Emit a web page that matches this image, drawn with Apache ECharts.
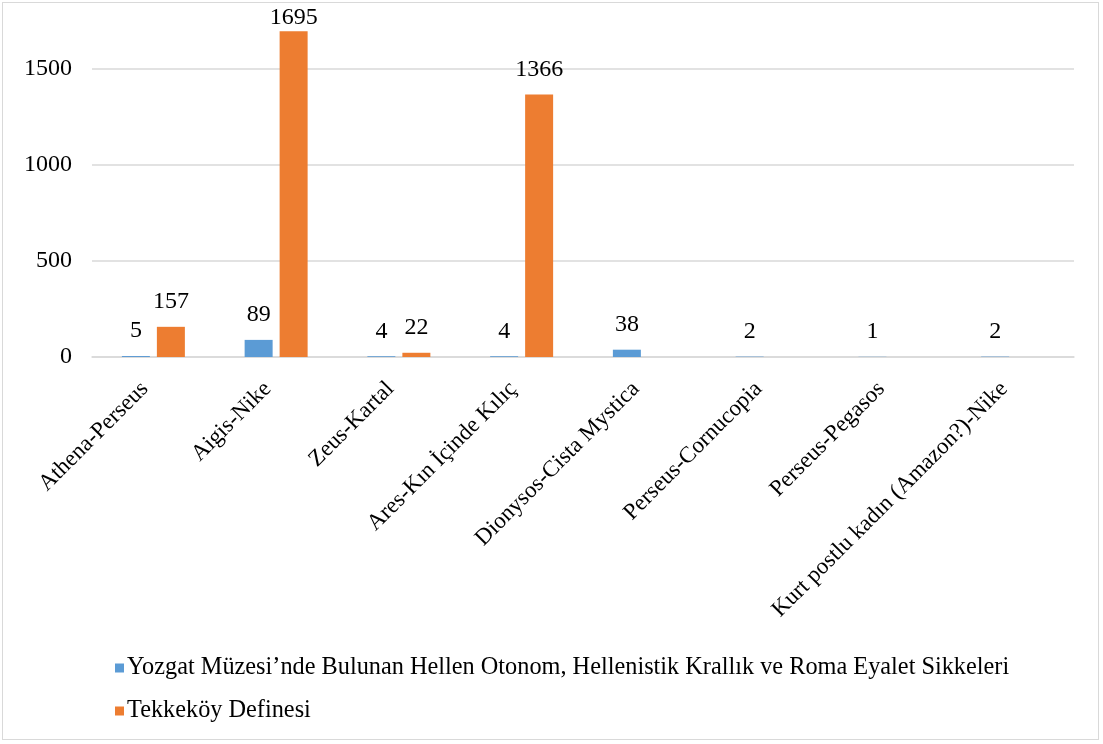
<!DOCTYPE html>
<html>
<head>
<meta charset="utf-8">
<script src="https://cdn.jsdelivr.net/npm/echarts@6/dist/echarts.min.js"></script>
<style>
  html, body { margin: 0; padding: 0; background: #fff; }
  #wrap { position: absolute; left: 2px; top: 2px; width: 1097px; height: 738px; border: 1px solid #d9d9d9; box-sizing: border-box; }
  #chart { position: absolute; left: 0; top: 0; width: 1103px; height: 744px; }
</style>
</head>
<body>
<div id="wrap"></div>
<div id="chart"></div>
<script>
const categories = ["Athena-Perseus", "Aigis-Nike", "Zeus-Kartal", "Ares-Kın İçinde Kılıç", "Dionysos-Cista Mystica", "Perseus-Cornucopia", "Perseus-Pegasos", "Kurt postlu kadın (Amazon?)-Nike"];
const seriesNames = ["Yozgat Müzesi’nde Bulunan Hellen Otonom, Hellenistik Krallık ve Roma Eyalet Sikkeleri", "Tekkeköy Definesi"];
const yozgatValues = [5, 89, 4, 4, 38, 2, 1, 2];
const tekkekoyValues = [157, 1695, 22, 1366, null, null, null, null];
const yTicks = [0, 500, 1000, 1500];

const FONT = "'Liberation Serif', 'Times New Roman', serif";
const chart = echarts.init(document.getElementById('chart'), null, { renderer: 'canvas' });

function withLabels(values) {
  return values.map(v => (v !== null && v > 1600) ? { value: v, label: { distance: 1 } } : v);
}

const labelStyle = { show: true, position: 'top', distance: 13, fontFamily: FONT, fontSize: 24, color: '#000' };

chart.setOption({
  animation: false,
  textStyle: { fontFamily: FONT },
  grid: { left: 92, right: 29, top: 11, bottom: 387, containLabel: false },
  legend: {
    orient: 'vertical', left: 110, top: 651,
    itemWidth: 9, itemHeight: 9, itemGap: 19,
    icon: 'rect',
    textStyle: { fontFamily: FONT, fontSize: 24.3, color: '#000', padding: [0, 0, 0, -2] },
    data: seriesNames
  },
  xAxis: {
    type: 'category', data: categories,
    axisLine: { lineStyle: { color: '#d9d9d9', width: 1.5 } },
    axisTick: { show: false },
    axisLabel: { rotate: 45, margin: 20, padding: [0, 12, 0, 0], fontFamily: FONT, fontSize: 23, color: '#000', interval: 0 }
  },
  yAxis: {
    type: 'value', min: yTicks[0], max: 1800, interval: yTicks[1] - yTicks[0],
    axisLine: { show: false }, axisTick: { show: false },
    axisLabel: { showMaxLabel: false, margin: 20, fontFamily: FONT, fontSize: 24, color: '#000',
      formatter: v => String(v) },
    splitLine: { showMaxLine: false, lineStyle: { color: '#d9d9d9', width: 1.5 } }
  },
  series: [
    { name: seriesNames[0], type: 'bar', data: withLabels(yozgatValues), barWidth: 28, barGap: '25%',
      itemStyle: { color: '#5B9BD5' }, label: labelStyle },
    { name: seriesNames[1], type: 'bar', data: withLabels(tekkekoyValues), barWidth: 28, barGap: '25%',
      itemStyle: { color: '#ED7D31' }, label: labelStyle }
  ]
});
</script>
</body>
</html>
